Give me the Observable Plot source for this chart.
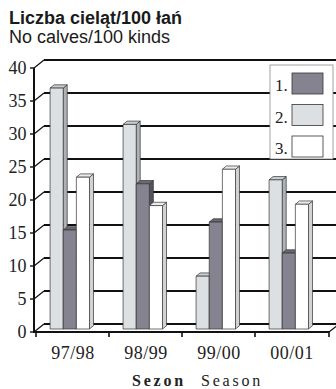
<!DOCTYPE html>
<html><head><meta charset="utf-8">
<script src="https://cdn.jsdelivr.net/npm/d3@7"></script>
<script src="https://cdn.jsdelivr.net/npm/@observablehq/plot@0.6"></script>
<style>
body{margin:0;background:#fff;overflow:hidden}
svg text{font-family:"Liberation Serif","Tinos","Times New Roman","DejaVu Serif",serif}
svg text.sans{font-family:"Liberation Sans","Arimo",Arial,"DejaVu Sans",sans-serif}
[aria-label="x-axis tick label"] text{letter-spacing:0.5px}
</style>
</head><body><div id="chart"></div>
<script>
// ---- data ----
const seasons = ["97/98", "98/99", "99/00", "00/01"];
const series1 = [15, 22, 16.2, 11.5];     // 1. (dark)
const series2 = [36.5, 31, 8, 22.6];      // 2. (light grey)
const series3 = [23, 18.7, 24.2, 18.9];   // 3. (white)
const yTicks = [0, 5, 10, 15, 20, 25, 30, 35, 40];
const legendLabels = ["1.", "2.", "3."];
const titleText = "Liczba cieląt/100 łań";
const subtitleText = "No calves/100 kinds";
const xLabelPL = "Sezon";
const xLabelEN = "Season";

// ---- styles ----
const seriesValues = [series1, series2, series3];
const faces = [
  {front: "#85838f", side: "#54535b", top: "#6a6972"},
  {front: "#dde0e3", side: "#aeb2b6", top: "#c9cdd0"},
  {front: "#ffffff", side: "#d2d2d2", top: "#ececec"}
];
const barOrder = [1, 0, 2]; // drawing order inside a group (2., 1., 3.)
const DX = 10, DY = -8;     // wall depth
const PX = 0, PY = -3;      // bar front plane offset
const BX = 4, BY = -3.3;    // bar depth
const ink = "#111";

function scene(index, scales, values, dims) {
  const {x, y} = scales;
  const L = dims.marginLeft, R = dims.width - dims.marginRight;
  const y0 = y(0), bw = x.bandwidth();
  const g = d3.create("svg:g");
  const line = (x1, y1, x2, y2, w) => g.append("line")
    .attr("x1", x1).attr("y1", y1).attr("x2", x2).attr("y2", y2)
    .attr("stroke", ink).attr("stroke-width", w);
  const poly = (pts, fill) => g.append("polygon")
    .attr("points", pts.map(p => p.join(",")).join(" "))
    .attr("fill", fill).attr("stroke", "#333").attr("stroke-width", 0.7)
    .attr("stroke-linejoin", "round");

  // walls
  for (const t of yTicks) {
    line(L + DX, y(t) + DY, dims.width + DX, y(t) + DY, 1.8);
    line(L, y(t), L + DX, y(t) + DY, 1.2);
    line(L - 4, y(t), L, y(t), 1.4);
  }
  line(L, y0, R, y0, 2);
  line(R, y0, R + DX, y0 + DY, 1.2);
  line(L, y0 + 1, L, y(yTicks[yTicks.length - 1]), 2);
  for (const s of seasons) line(x(s), y0, x(s), y0 + 5, 1.6);
  line(R, y0, R, y0 + 5, 1.6);

  // bars
  seasons.forEach((s, j) => {
    barOrder.forEach((k, i) => {
      const v = seriesValues[k][j];
      const x0 = x(s) + bw * 0.193 + i * bw * 0.18 + PX, x1 = x0 + bw * 0.18;
      const yt = y(v) + PY, yb = y0 + PY;
      poly([[x1, yt], [x1 + BX, yt + BY], [x1 + BX, yb + BY], [x1, yb]], faces[k].side);
      poly([[x0, yt], [x0 + BX, yt + BY], [x1 + BX, yt + BY], [x1, yt]], faces[k].top);
      poly([[x0, yt], [x1, yt], [x1, yb], [x0, yb]], faces[k].front);
    });
  });

  // legend
  const lg = g.append("g");
  lg.append("rect").attr("x", 270).attr("y", 65).attr("width", 63).attr("height", 94)
    .attr("fill", "#fff").attr("stroke", "#8a8a8a").attr("stroke-width", 0.8);
  legendLabels.forEach((lab, i) => {
    lg.append("rect").attr("x", 292).attr("y", 73 + i * 31.5).attr("width", 31).attr("height", 21)
      .attr("fill", faces[i].front).attr("stroke", "#333").attr("stroke-width", 0.8);
    lg.append("text").attr("x", 275).attr("y", 91 + i * 31.5).text(lab)
      .attr("text-anchor", "start")
      .attr("font-size", 17).attr("fill", "#222");
  });

  // titles
  g.append("text").attr("class", "sans").attr("x", 9).attr("y", 24).text(titleText)
    .attr("text-anchor", "start").attr("font-weight", "bold")
    .attr("font-size", 18).attr("fill", "#1a1a1a");
  g.append("text").attr("class", "sans").attr("x", 9).attr("y", 43).text(subtitleText)
    .attr("text-anchor", "start")
    .attr("font-size", 18).attr("fill", "#1a1a1a");
  g.append("text").attr("x", 132).attr("y", 386).text(xLabelPL)
    .attr("text-anchor", "start").attr("font-weight", "bold")
    .attr("font-size", 16).attr("letter-spacing", "2.8px").attr("fill", "#222");
  g.append("text").attr("x", 201).attr("y", 386).text(xLabelEN)
    .attr("text-anchor", "start")
    .attr("font-size", 16).attr("letter-spacing", "2.8px").attr("fill", "#222");
  return g.node();
}

const chart = Plot.plot({
  width: 336,
  height: 389,
  marginLeft: 34,
  marginRight: 7,
  marginTop: 68,
  marginBottom: 57,
  style: {fontSize: "18px", color: "#222", background: "#fff"},
  x: {type: "band", domain: seasons, padding: 0},
  y: {domain: [0, 40]},
  marks: [
    scene,
    Plot.axisY({ticks: yTicks, tickSize: 0, tickPadding: 8, label: null, fontSize: 18}),
    Plot.axisX({tickSize: 0, tickPadding: 14, label: null, fontSize: 18})
  ]
});
document.getElementById("chart").appendChild(chart);
</script>
</body></html>
